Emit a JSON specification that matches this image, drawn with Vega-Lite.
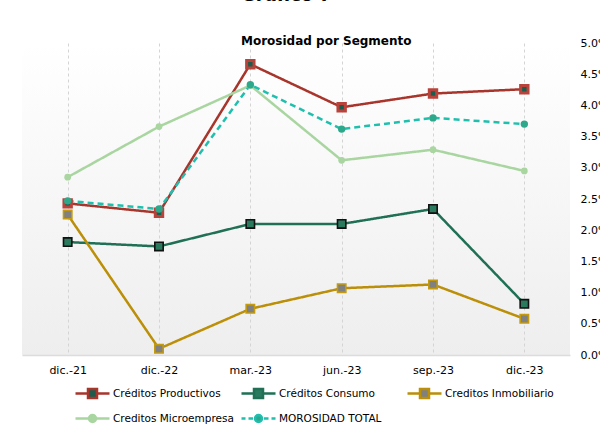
{
  "$schema": "https://vega.github.io/schema/vega-lite/v6.json",
  "width": 548,
  "height": 312,
  "autosize": {"type": "none"},
  "padding": {"left": 22, "top": 43, "right": 30, "bottom": 75},
  "background": "#ffffff",
  "title": {
    "text": "Gráfico 7",
    "subtitle": "Morosidad por Segmento",
    "anchor": "start",
    "frame": "group",
    "dx": 219,
    "offset": -10,
    "font": "DejaVu Sans",
    "fontSize": 18,
    "fontWeight": "bold",
    "color": "#000000",
    "subtitleFont": "DejaVu Sans",
    "subtitleFontSize": 12,
    "subtitleFontWeight": "bold",
    "subtitleColor": "#000000",
    "subtitlePadding": 31
  },
  "data": {
    "values": [
      {"fecha": "dic.-21", "serie": "Créditos Productivos", "valor": 0.0243},
      {"fecha": "dic.-22", "serie": "Créditos Productivos", "valor": 0.0228},
      {"fecha": "mar.-23", "serie": "Créditos Productivos", "valor": 0.0466},
      {"fecha": "jun.-23", "serie": "Créditos Productivos", "valor": 0.0397},
      {"fecha": "sep.-23", "serie": "Créditos Productivos", "valor": 0.0419},
      {"fecha": "dic.-23", "serie": "Créditos Productivos", "valor": 0.0426},
      {"fecha": "dic.-21", "serie": "Créditos Consumo", "valor": 0.0181},
      {"fecha": "dic.-22", "serie": "Créditos Consumo", "valor": 0.0174},
      {"fecha": "mar.-23", "serie": "Créditos Consumo", "valor": 0.0210},
      {"fecha": "jun.-23", "serie": "Créditos Consumo", "valor": 0.0210},
      {"fecha": "sep.-23", "serie": "Créditos Consumo", "valor": 0.0234},
      {"fecha": "dic.-23", "serie": "Créditos Consumo", "valor": 0.0082},
      {"fecha": "dic.-21", "serie": "Creditos Inmobiliario", "valor": 0.0225},
      {"fecha": "dic.-22", "serie": "Creditos Inmobiliario", "valor": 0.0010},
      {"fecha": "mar.-23", "serie": "Creditos Inmobiliario", "valor": 0.0074},
      {"fecha": "jun.-23", "serie": "Creditos Inmobiliario", "valor": 0.0107},
      {"fecha": "sep.-23", "serie": "Creditos Inmobiliario", "valor": 0.0113},
      {"fecha": "dic.-23", "serie": "Creditos Inmobiliario", "valor": 0.0058},
      {"fecha": "dic.-21", "serie": "Creditos Microempresa", "valor": 0.0285},
      {"fecha": "dic.-22", "serie": "Creditos Microempresa", "valor": 0.0366},
      {"fecha": "mar.-23", "serie": "Creditos Microempresa", "valor": 0.0432},
      {"fecha": "jun.-23", "serie": "Creditos Microempresa", "valor": 0.0312},
      {"fecha": "sep.-23", "serie": "Creditos Microempresa", "valor": 0.0329},
      {"fecha": "dic.-23", "serie": "Creditos Microempresa", "valor": 0.0295},
      {"fecha": "dic.-21", "serie": "MOROSIDAD TOTAL", "valor": 0.0247},
      {"fecha": "dic.-22", "serie": "MOROSIDAD TOTAL", "valor": 0.0234},
      {"fecha": "mar.-23", "serie": "MOROSIDAD TOTAL", "valor": 0.0433},
      {"fecha": "jun.-23", "serie": "MOROSIDAD TOTAL", "valor": 0.0362},
      {"fecha": "sep.-23", "serie": "MOROSIDAD TOTAL", "valor": 0.0380},
      {"fecha": "dic.-23", "serie": "MOROSIDAD TOTAL", "valor": 0.0370}
    ]
  },
  "encoding": {
    "x": {
      "field": "fecha",
      "type": "ordinal",
      "sort": ["dic.-21", "dic.-22", "mar.-23", "jun.-23", "sep.-23", "dic.-23"],
      "scale": {"type": "point", "padding": 0.5},
      "axis": {
        "title": null,
        "labelAngle": 0,
        "grid": true,
        "gridDash": [3, 3],
        "gridColor": "#d4d4d4",
        "gridWidth": 1,
        "domain": true,
        "domainColor": "#dcdcdc",
        "domainWidth": 1.5,
        "ticks": false,
        "labelPadding": 9,
        "labelFont": "DejaVu Sans",
        "labelFontSize": 11,
        "labelColor": "#000000"
      }
    },
    "y": {
      "field": "valor",
      "type": "quantitative",
      "scale": {"domain": [0, 0.05], "nice": false},
      "axis": {
        "title": null,
        "orient": "right",
        "format": ".1%",
        "values": [0, 0.005, 0.01, 0.015, 0.02, 0.025, 0.03, 0.035, 0.04, 0.045, 0.05],
        "grid": false,
        "domain": false,
        "ticks": false,
        "labelPadding": 10,
        "labelFont": "DejaVu Sans",
        "labelFontSize": 11,
        "labelColor": "#000000"
      }
    }
  },
  "layer": [
    {
      "mark": {"type": "line", "strokeWidth": 2.5},
      "encoding": {
        "color": {
          "field": "serie",
          "type": "nominal",
          "scale": {
            "domain": ["Créditos Productivos", "Créditos Consumo", "Creditos Inmobiliario", "Creditos Microempresa", "MOROSIDAD TOTAL"],
            "range": ["#a8352c", "#1f7054", "#bb8f08", "#a9d5a0", "#1fbfae"]
          },
          "legend": {
            "title": null,
            "orient": "none",
            "direction": "horizontal",
            "legendX": 64,
            "legendY": 344,
            "columns": 3,
            "gridAlign": "all",
            "columnPadding": 2,
            "rowPadding": 7,
            "padding": 0,
            "labelFont": "DejaVu Sans",
            "labelFontSize": 10.5,
            "labelColor": "#000000",
            "labelOffset": 14,
            "labelLimit": 200,
            "symbolSize": 100,
            "symbolStrokeWidth": 2.5,
            "encode": {
              "symbols": {
                "update": {
                  "shape": {"signal": "datum.value === 'MOROSIDAD TOTAL' ? 'M-3.4,0H-2.6M-2,0H-1.1M1.1,0H2M2.6,0H3.4M-0.7,0A0.7,0.7 0 1,0 0.7,0A0.7,0.7 0 1,0 -0.7,0Z' : datum.value === 'Creditos Microempresa' ? 'M-3.4,0H-0.7M0.7,0H3.4M-0.7,0A0.7,0.7 0 1,0 0.7,0A0.7,0.7 0 1,0 -0.7,0Z' : 'M-3.4,0H-0.9M0.9,0H3.4M-0.9,-0.9H0.9V0.9H-0.9Z'"},
                  "fill": {"signal": "datum.value === 'Créditos Productivos' ? '#1d5c4c' : datum.value === 'Créditos Consumo' ? '#2a7a5e' : datum.value === 'Creditos Inmobiliario' ? '#808080' : datum.value === 'Creditos Microempresa' ? '#a9d5a0' : '#2ea88a'"},
                  "strokeWidth": {"value": 2.5},
                  "size": {"value": 100},
                  "opacity": {"value": 1}
                }
              }
            }
          }
        },
        "strokeDash": {
          "condition": {"test": "datum.serie === 'MOROSIDAD TOTAL'", "value": [6, 4]},
          "value": [1, 0]
        }
      }
    },
    {
      "mark": {"type": "point", "filled": true, "opacity": 1},
      "encoding": {
        "shape": {
          "condition": {"test": "datum.serie === 'Creditos Microempresa' || datum.serie === 'MOROSIDAD TOTAL'", "value": "circle"},
          "value": "square"
        },
        "fill": {
          "condition": [
            {"test": "datum.serie === 'Créditos Productivos'", "value": "#1d5c4c"},
            {"test": "datum.serie === 'Créditos Consumo'", "value": "#2a7a5e"},
            {"test": "datum.serie === 'Creditos Inmobiliario'", "value": "#808080"},
            {"test": "datum.serie === 'Creditos Microempresa'", "value": "#a9d5a0"}
          ],
          "value": "#2ea88a"
        },
        "stroke": {
          "condition": [
            {"test": "datum.serie === 'Créditos Productivos'", "value": "#b9433b"},
            {"test": "datum.serie === 'Créditos Consumo'", "value": "#111111"},
            {"test": "datum.serie === 'Creditos Inmobiliario'", "value": "#c39a10"}
          ],
          "value": null
        },
        "strokeWidth": {
          "condition": [
            {"test": "datum.serie === 'Créditos Productivos'", "value": 3},
            {"test": "datum.serie === 'Créditos Consumo' || datum.serie === 'Creditos Inmobiliario'", "value": 1.6}
          ],
          "value": 0
        },
        "size": {
          "condition": [
            {"test": "datum.serie === 'Créditos Productivos'", "value": 55},
            {"test": "datum.serie === 'Créditos Consumo' || datum.serie === 'Creditos Inmobiliario'", "value": 70},
            {"test": "datum.serie === 'Creditos Microempresa'", "value": 45}
          ],
          "value": 55
        }
      }
    }
  ],
  "config": {
    "view": {
      "stroke": null,
      "fill": {
        "gradient": "linear",
        "x1": 0, "y1": 0, "x2": 0, "y2": 1,
        "stops": [
          {"offset": 0, "color": "#ffffff"},
          {"offset": 1, "color": "#eeeeee"}
        ]
      }
    },
    "font": "DejaVu Sans"
  }
}
